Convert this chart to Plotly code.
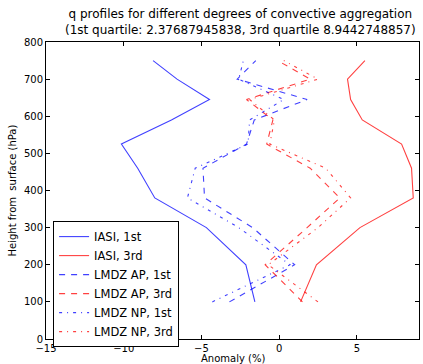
import plotly.graph_objects as go

levels = [100, 200, 300, 380, 460, 525, 590, 645, 700, 750]

iasi_1st = [-1.56, -2.14, -4.68, -8.0, -9.1, -10.15, -6.93, -4.48, -6.57, -8.11]
iasi_3rd = [1.38, 2.4, 5.2, 8.63, 8.52, 7.88, 5.35, 4.6, 4.4, 5.52]
lmdz_ap_1st = [-3.2, 1.0, -1.7, -4.8, -4.9, -2.1, -1.6, 1.8, -2.7, -1.5]
lmdz_ap_3rd = [1.5, -0.9, 1.8, 3.9, 2.0, -0.8, -0.4, -2.1, 2.0, -0.1]
lmdz_np_1st = [-4.3, 0.7, -2.6, -5.9, -5.4, -2.0, -1.9, 0.3, -2.6, -2.3]
lmdz_np_3rd = [2.5, -0.7, 2.5, 4.6, 3.0, -0.6, -0.3, -1.9, 2.5, 0.3]

names = ["IASI, 1st", "IASI, 3rd", "LMDZ AP, 1st", "LMDZ AP, 3rd", "LMDZ NP, 1st", "LMDZ NP, 3rd"]
series = [iasi_1st, iasi_3rd, lmdz_ap_1st, lmdz_ap_3rd, lmdz_np_1st, lmdz_np_3rd]
blue = "rgba(0,0,255,0.75)"
red = "rgba(255,0,0,0.75)"
colors = [blue, red, blue, red, blue, red]
dashes = ["solid", "solid", "6px,6px", "6px,6px", "3px,5px,1px,5px", "3px,5px,1px,5px"]

fig = go.Figure()
for nm, vals, c, d in zip(names, series, colors, dashes):
    fig.add_trace(go.Scatter(x=vals, y=levels, mode="lines", name=nm,
                             line=dict(color=c, width=1.1, dash=d)))

font = "DejaVu Sans"
axis_common = dict(showline=True, linecolor="black", linewidth=1, mirror="ticks",
                   ticks="inside", ticklen=4, tickcolor="black", showgrid=False,
                   zeroline=False, tickfont=dict(family=font, size=10, color="black"))

fig.update_layout(
    width=423, height=364,
    margin=dict(l=46, r=4, t=42, b=25),
    paper_bgcolor="white", plot_bgcolor="white",
    font=dict(family=font, color="black"),
    xaxis=dict(range=[-15, 9], tickvals=[-15, -10, -5, 0, 5],
               ticktext=["\u221215", "\u221210", "\u22125", "0", "5"], **axis_common),
    yaxis=dict(range=[0, 800], dtick=100, **axis_common),
    legend=dict(x=0.019, y=0.397, xanchor="left", yanchor="top",
                bordercolor="black", borderwidth=1, bgcolor="white",
                font=dict(family=font, size=11.5, color="black"),
                tracegroupgap=0, itemwidth=30),
    showlegend=True,
)

fig.add_annotation(text="q profiles for different degrees of convective aggregation<br>(1st quartile: 2.37687945838, 3rd quartile 8.9442748857)",
                   xref="paper", yref="paper", x=0.5, xshift=8, y=1.0, yshift=3,
                   xanchor="center", yanchor="bottom", showarrow=False,
                   font=dict(family=font, size=12, color="black"))
fig.add_annotation(text="Anomaly (%)", xref="paper", yref="paper", x=0.5, y=0,
                   yshift=-19, xanchor="center", yanchor="middle", showarrow=False,
                   font=dict(family=font, size=10, color="black"))
fig.add_annotation(text="Height from\u00a0 surface (hPa)", xref="paper", yref="paper",
                   x=0, xshift=-34, y=0.5, textangle=-90, xanchor="center",
                   yanchor="middle", showarrow=False,
                   font=dict(family=font, size=10, color="black"))

fig.write_html("out.html")
